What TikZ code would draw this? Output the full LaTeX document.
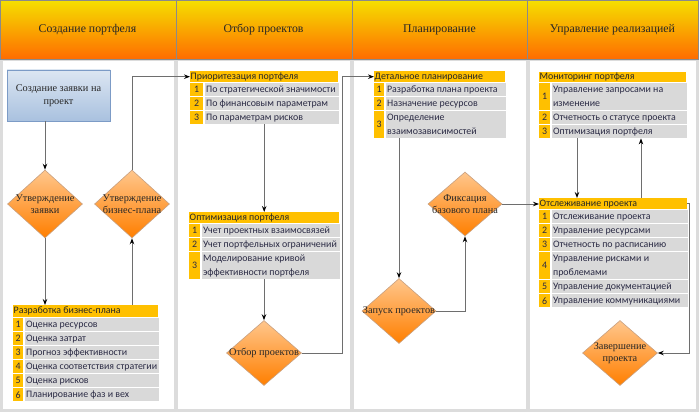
\documentclass[tikz,border=0pt]{standalone}
\usepackage{fontspec}
\setmainfont{Liberation Serif}
\newfontfamily\lstfont{Carlito}
\newfontfamily\serfont{Liberation Serif}
\usetikzlibrary{shapes.geometric,arrows.meta}
\definecolor{hdrtop}{HTML}{F5E000}
\definecolor{hdrmid}{HTML}{FF9C00}
\definecolor{hdrbot}{HTML}{FF6A00}
\definecolor{hdrline}{HTML}{8A8A8A}
\definecolor{gold}{HTML}{FFC000}
\definecolor{rowgray}{HTML}{D9D9D9}
\definecolor{lanegray}{HTML}{DCDCDC}
\definecolor{linegray}{HTML}{6E6E6E}
\definecolor{dtop}{HTML}{FFC68C}
\definecolor{dbot}{HTML}{FF7F00}
\definecolor{dborder}{HTML}{C8A080}
\definecolor{btop}{HTML}{DCE6F2}
\definecolor{bbot}{HTML}{A9C1DF}
\definecolor{bborder}{HTML}{7C9BC6}
\definecolor{txtdark}{HTML}{262626}
\definecolor{lsttxt}{HTML}{2A2A44}
\tikzset{
  numcell/.style={anchor=north west, fill=gold, inner sep=0pt},
  rowcell/.style={anchor=north west, fill=rowgray, inner sep=0pt},
  numtxt/.style={font=\lstfont\fontsize{9.9}{11}\selectfont, text=lsttxt, inner sep=0pt},
  rowtxt/.style={anchor=west, font=\lstfont\fontsize{9.9}{14}\selectfont, text=lsttxt, inner xsep=1.5pt, inner ysep=0pt, align=left},
  lhead/.style={anchor=north west, fill=gold, inner sep=0pt},
  lheadt/.style={anchor=west, font=\lstfont\fontsize{9.9}{11}\selectfont, text=txtdark, inner xsep=0.5pt, inner ysep=0pt},
  dmd/.style={diamond, top color=dtop, bottom color=dbot, draw=dborder, line width=0.6pt, inner sep=0pt},
  dtext/.style={font=\serfont\fontsize{10.3}{12.5}\selectfont, align=center, text=txtdark, inner sep=0pt},
  boxst/.style={top color=btop, bottom color=bbot, draw=bborder, line width=0.8pt, inner sep=0pt, align=center, font=\serfont\fontsize{10.3}{13}\selectfont, text=txtdark},
  title/.style={font=\serfont\fontsize{11.8}{13}\selectfont, text=txtdark},
  conn/.style={draw=linegray, line width=0.9pt},
  arr/.style={conn, -{Stealth[length=6pt,width=4.5pt,inset=2pt,color=black]}},
}
\newcommand{\lrow}[8]{%
  \node[numcell, minimum width=#4pt, minimum height=#6pt] (#1n) at (#2,#3) {};
  \node[numtxt] (#1nt) at (#1n) {#7};
  \node[rowcell, minimum width=#5pt, minimum height=#6pt] (#1) at ([xshift=1pt]#1n.north east) {};
  \node[rowtxt] (#1t) at (#1.west) {#8};
}
\begin{document}
\begin{tikzpicture}[x=1pt,y=-1pt]
\useasboundingbox (0,0) rectangle (699,412);
% background and lanes
\fill[lanegray] (0,0) rectangle (699,412);
\fill[white] (3,61) rectangle (174,409);
\fill[white] (178,61) rectangle (350,409);
\fill[white] (354,61) rectangle (526,409);
\fill[white] (530,61) rectangle (696,409);
% header
\shade[top color=hdrtop, middle color=hdrmid, bottom color=hdrbot] (0,0) rectangle (699,60);
\draw[hdrline, line width=1pt] (0.5,0.5) rectangle (698.5,60);
\draw[hdrline, line width=1pt] (176.5,0) -- (176.5,60);
\draw[hdrline, line width=1pt] (352.5,0) -- (352.5,60);
\draw[hdrline, line width=1pt] (527,0) -- (527,60);
\node[title] (h1) at (87.5,30) {Создание портфеля};
\node[title] (h2) at (263.5,30) {Отбор проектов};
\node[title] (h3) at (439.5,30) {Планирование};
\node[title] (h4) at (612.5,30) {Управление реализацией};
% lane 1
\node[boxst, minimum width=103pt, minimum height=51pt] (b1) at (58.5,95.5) {Создание заявки на\\проект};
\node[dmd, minimum width=75pt, minimum height=68pt] (d1) at (45,204) {};
\node[dtext] (d1t) at (d1) {Утверждение\\заявки};
\node[dmd, minimum width=75pt, minimum height=68pt] (d2) at (132,204) {};
\node[dtext] (d2t) at (d2) {Утверждение\\бизнес-плана};
\node[lhead, minimum width=145pt, minimum height=12pt] (l1h) at (13,305) {};
\node[lheadt] (l1ht) at (l1h.west) {Разработка бизнес-плана};
\lrow{l1a}{13}{318}{10}{134}{13}{1}{Оценка ресурсов}
\lrow{l1b}{13}{332}{10}{134}{13}{2}{Оценка затрат}
\lrow{l1c}{13}{346}{10}{134}{13}{3}{Прогноз эффективности}
\lrow{l1d}{13}{360}{10}{134}{13}{4}{Оценка соответствия стратегии}
\lrow{l1e}{13}{374}{10}{134}{13}{5}{Оценка рисков}
\lrow{l1f}{13}{388}{10}{134}{13}{6}{Планирование фаз и вех}
% lane 2
\node[lhead, minimum width=148pt, minimum height=11pt] (l2h) at (190,71) {};
\node[lheadt] (l2ht) at (l2h.west) {Приоритезация портфеля};
\lrow{l2a}{190}{83}{13}{134}{13}{1}{По стратегической значимости}
\lrow{l2b}{190}{97}{13}{134}{13}{2}{По финансовым параметрам}
\lrow{l2c}{190}{111}{13}{134}{13}{3}{По параметрам рисков}
\node[lhead, minimum width=150pt, minimum height=11pt] (l3h) at (189,212) {};
\node[lheadt] (l3ht) at (l3h.west) {Оптимизация портфеля};
\lrow{l3a}{189}{224}{11}{138}{13}{1}{Учет проектных взаимосвязей}
\lrow{l3b}{189}{238}{11}{138}{13}{2}{Учет портфельных ограничений}
\lrow{l3c}{189}{252}{11}{138}{27}{3}{Моделирование кривой\\эффективности портфеля}
\node[dmd, minimum width=75pt, minimum height=65pt] (d3) at (264,353) {};
\node[dtext] (d3t) at (d3) {Отбор проектов};
% lane 3
\node[lhead, minimum width=131pt, minimum height=11pt] (l4h) at (374,71) {};
\node[lheadt] (l4ht) at (l4h.west) {Детальное планирование};
\lrow{l4a}{374}{83}{10}{120}{13}{1}{Разработка плана проекта}
\lrow{l4b}{374}{97}{10}{120}{13}{2}{Назначение ресурсов}
\lrow{l4c}{374}{111}{10}{120}{27}{3}{Определение\\взаимозависимостей}
\node[dmd, minimum width=74pt, minimum height=64pt] (d5) at (465,204) {};
\node[dtext] (d5t) at (d5) {Фиксация\\базового плана};
\node[dmd, minimum width=74pt, minimum height=65pt] (d4) at (399,311) {};
\node[dtext] (d4t) at (d4) {Запуск проектов};
% lane 4
\node[lhead, minimum width=147pt, minimum height=10pt] (l5h) at (539,72) {};
\node[lheadt] (l5ht) at (l5h.west) {Мониторинг портфеля};
\lrow{l5a}{539}{83}{11}{135}{27}{1}{Управление запросами на\\изменение}
\lrow{l5b}{539}{111}{11}{135}{13}{2}{Отчетность о статусе проекта}
\lrow{l5c}{539}{125}{11}{135}{13}{3}{Оптимизация портфеля}
\node[lhead, minimum width=148pt, minimum height=11pt] (l6h) at (539,198) {};
\node[lheadt] (l6ht) at (l6h.west) {Отслеживание проекта};
\lrow{l6a}{539}{210}{11}{136}{13}{1}{Отслеживание проекта}
\lrow{l6b}{539}{224}{11}{136}{13}{2}{Управление ресурсами}
\lrow{l6c}{539}{238}{11}{136}{13}{3}{Отчетность по расписанию}
\lrow{l6d}{539}{252}{11}{136}{27}{4}{Управление рисками и\\проблемами}
\lrow{l6e}{539}{280}{11}{136}{13}{5}{Управление документацией}
\lrow{l6f}{539}{294}{11}{136}{13}{6}{Управление коммуникациями}
\node[dmd, minimum width=75pt, minimum height=65pt] (d6) at (620,353) {};
\node[dtext] (d6t) at (d6) {Завершение\\проекта};
% connectors
\draw[arr] (d1.north |- b1.south) -- (d1.north);
\draw[arr] (d1.south) -- (d1.south |- l1h.north);
\draw[arr] (d2.south |- l1h.north) -- (d2.south);
\draw[arr] (d2.north) |- (l2h.west);
\draw[arr] (l3h.north |- l2c.south) -- (l3h.north);
\draw[arr] (d3.north |- l3c.south) -- (d3.north);
\coordinate (k1) at (342,353);
\draw[arr] (d3.east) -- (k1) |- (l4h.west);
\draw[arr] (d4.north |- l4c.south) -- (d4.north);
\draw[arr] (d4.east) -| (d5.south);
\draw[arr] (d5.east) -- (d5.east -| l6h.west);
\coordinate (k2) at (577,0);
\coordinate (k3) at (641,0);
\coordinate (k4) at (689,0);
\draw[arr] (k2 |- l5c.south) -- (k2 |- l6h.north);
\draw[arr] (k3 |- l6h.north) -- (k3 |- l5c.south);
\draw[arr] (l6h.east) -- (k4 |- l6h.east) |- (d6.east);
\end{tikzpicture}
\end{document}
